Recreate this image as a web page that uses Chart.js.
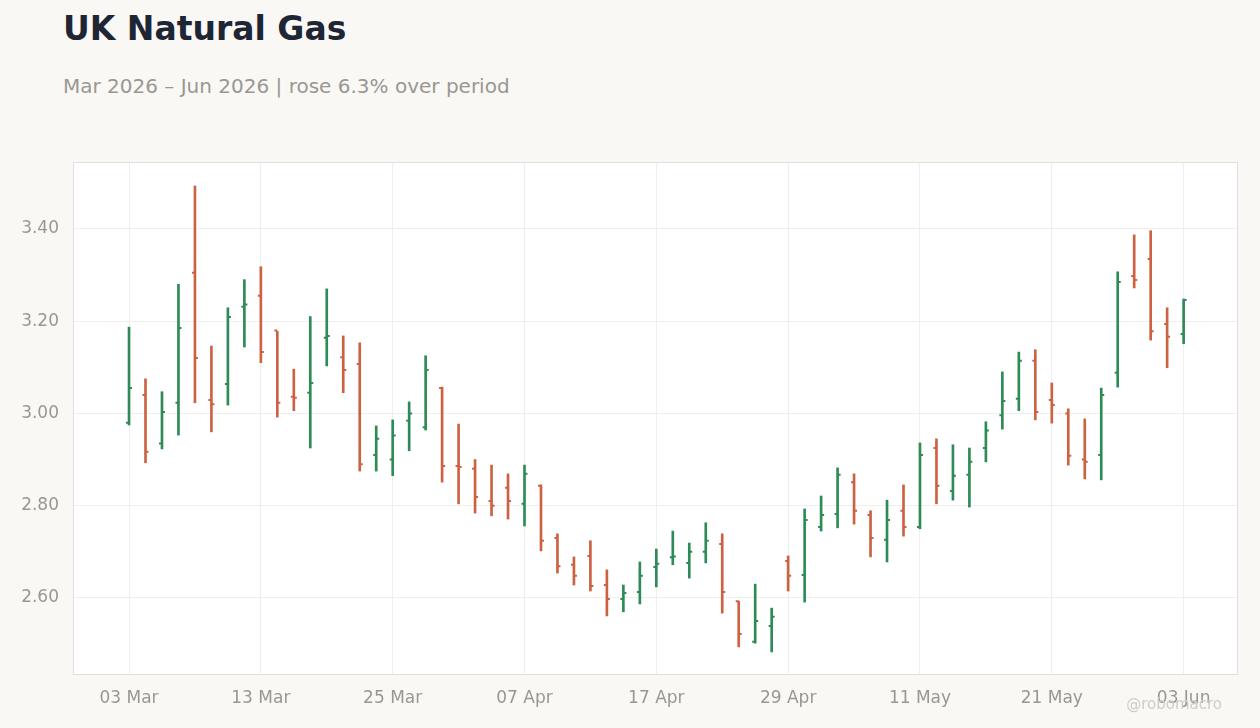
<!DOCTYPE html>
<html><head><meta charset="utf-8">
<script src="https://cdn.jsdelivr.net/npm/chart.js@4/dist/chart.umd.min.js"></script>
<style>
html,body{margin:0;padding:0;background:#f9f8f5;width:1260px;height:728px;overflow:hidden;font-family:"DejaVu Sans",sans-serif;}
#t{position:absolute;left:63px;top:9px;font-size:33px;font-weight:700;color:#1e2635;}
#s{position:absolute;left:63px;top:74px;font-size:20px;color:#9a9792;}
#w{position:absolute;right:38px;top:695px;font-size:15px;color:#cfccc8;}
canvas{position:absolute;left:0;top:0;}
</style></head><body>
<div id="t">UK Natural Gas</div>
<div id="s">Mar 2026 – Jun 2026 | rose 6.3% over period</div>
<canvas id="c" width="1260" height="728"></canvas>
<div id="w">@robomacro</div>
<script>
const dates=["03 Mar","04 Mar","05 Mar","06 Mar","09 Mar","10 Mar","11 Mar","12 Mar","13 Mar","16 Mar","17 Mar","18 Mar","19 Mar","20 Mar","23 Mar","24 Mar","25 Mar","26 Mar","27 Mar","30 Mar","31 Mar","01 Apr","02 Apr","06 Apr","07 Apr","08 Apr","09 Apr","10 Apr","13 Apr","14 Apr","15 Apr","16 Apr","17 Apr","20 Apr","21 Apr","22 Apr","23 Apr","24 Apr","27 Apr","28 Apr","29 Apr","30 Apr","01 May","04 May","05 May","06 May","07 May","08 May","11 May","12 May","13 May","14 May","15 May","18 May","19 May","20 May","21 May","22 May","26 May","27 May","28 May","29 May","01 Jun","02 Jun","03 Jun"];
const open=[2.98,3.04,2.935,3.023,3.305,3.029,3.064,3.231,3.255,3.18,3.036,3.045,3.164,3.122,3.107,2.91,2.90,2.984,2.97,3.055,2.886,2.88,2.81,2.839,2.804,2.843,2.73,2.672,2.691,2.628,2.598,2.613,2.667,2.688,2.676,2.70,2.717,2.593,2.505,2.539,2.68,2.65,2.754,2.782,2.851,2.78,2.726,2.789,2.754,2.925,2.832,2.867,2.925,2.996,3.032,3.114,3.029,3.00,2.90,2.91,3.088,3.298,3.335,3.194,3.172];
const high=[3.187,3.075,3.047,3.28,3.493,3.146,3.229,3.29,3.318,3.178,3.096,3.21,3.27,3.168,3.153,2.973,2.986,3.025,3.125,3.057,2.977,2.90,2.888,2.869,2.888,2.845,2.739,2.689,2.724,2.661,2.628,2.678,2.706,2.745,2.719,2.763,2.739,2.593,2.63,2.578,2.691,2.793,2.821,2.882,2.869,2.789,2.812,2.845,2.936,2.945,2.932,2.925,2.982,3.09,3.133,3.138,3.066,3.01,2.988,3.055,3.307,3.387,3.396,3.229,3.248];
const low=[2.975,2.893,2.923,2.953,3.023,2.96,3.018,3.144,3.11,2.992,3.006,2.925,3.103,3.045,2.875,2.875,2.865,2.919,2.964,2.851,2.804,2.784,2.778,2.771,2.756,2.702,2.654,2.628,2.615,2.561,2.57,2.587,2.624,2.672,2.643,2.676,2.567,2.494,2.502,2.483,2.615,2.591,2.745,2.752,2.76,2.689,2.678,2.734,2.75,2.804,2.812,2.797,2.895,2.966,3.006,2.986,2.979,2.888,2.858,2.856,3.057,3.272,3.159,3.099,3.151];
const close=[3.055,2.917,3.003,3.185,3.12,3.02,3.209,3.236,3.133,3.023,3.034,3.066,3.168,3.094,2.89,2.945,2.952,3.00,3.094,2.886,2.884,2.819,2.80,2.81,2.869,2.724,2.669,2.648,2.626,2.598,2.611,2.648,2.674,2.690,2.70,2.724,2.613,2.522,2.55,2.559,2.648,2.769,2.78,2.867,2.789,2.73,2.769,2.754,2.91,2.843,2.865,2.895,2.963,3.027,3.114,3.003,3.018,2.908,2.895,3.04,3.285,3.289,3.178,3.166,3.246];
const UP="#2e8a56", DN="#cc6242";
const col=open.map((o,i)=>close[i]>=o?UP:DN);
const ohlcPlugin={id:"ohlc",
 beforeDraw(ch){const a=ch.chartArea,c=ch.ctx;c.save();c.fillStyle="#fff";c.fillRect(a.left,a.top,a.right-a.left,a.bottom-a.top);c.restore();},
 afterDatasetsDraw(ch){const c=ch.ctx,x=ch.scales.x,y=ch.scales.y;c.save();c.lineWidth=2;
  open.forEach((o,i)=>{const px=x.getPixelForValue(i);c.strokeStyle=col[i];c.beginPath();
   c.moveTo(px-3,y.getPixelForValue(o));c.lineTo(px,y.getPixelForValue(o));
   c.moveTo(px,y.getPixelForValue(close[i]));c.lineTo(px+3,y.getPixelForValue(close[i]));c.stroke();});
  const a=ch.chartArea;c.strokeStyle="#e2dfda";c.lineWidth=1;c.strokeRect(a.left+0.5,a.top+0.5,a.right-a.left-1,a.bottom-a.top-1);c.restore();}};
new Chart(document.getElementById("c"),{type:"bar",
 data:{datasets:[{data:dates.map((d,i)=>({x:i,y:[low[i],high[i]]})),backgroundColor:col,barThickness:2,borderWidth:0,grouped:false}]},
 options:{responsive:false,animation:false,parsing:{xAxisKey:"x",yAxisKey:"y"},
  layout:{padding:{top:162,right:22,left:0,bottom:0}},
  plugins:{legend:{display:false},tooltip:{enabled:false}},
  scales:{
   x:{type:"linear",offset:false,min:-3.4,max:67.3,afterBuildTicks(s){s.ticks=[0,8,16,24,32,40,48,56,64].map(v=>({value:v}));},
    afterFit(s){s.height=53;},border:{display:false},grid:{color:"#f0efed",drawTicks:false,offset:false},
    ticks:{padding:13,color:"#9a9792",font:{size:17,family:"DejaVu Sans"},callback:v=>dates[v]??"",autoSkip:false,maxRotation:0}},
   y:{min:2.433,max:3.545,afterBuildTicks(s){s.ticks=[2.6,2.8,3.0,3.2,3.4].map(v=>({value:v}));},
    afterFit(s){s.width=73;},border:{display:false},grid:{color:"#f0efed",drawTicks:false},
    ticks:{padding:14,color:"#9a9792",font:{size:17,family:"DejaVu Sans"},callback:v=>v.toFixed(2)}}}},
 plugins:[ohlcPlugin]});
</script></body></html>
